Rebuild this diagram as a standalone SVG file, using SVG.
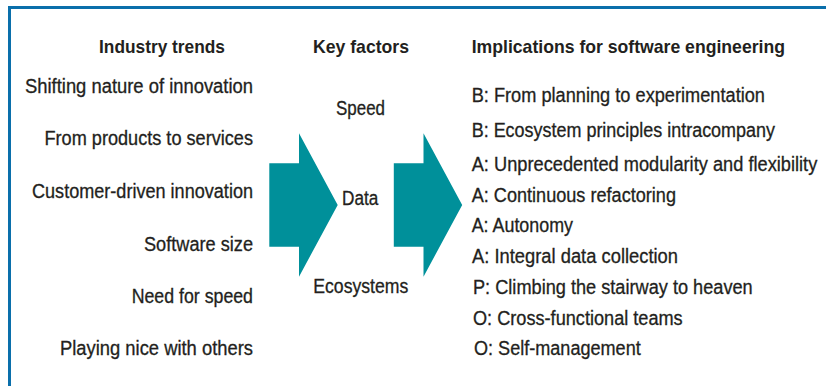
<svg xmlns="http://www.w3.org/2000/svg" width="826" height="386" viewBox="0 0 826 386">
  <style>
    text { font-family: "Liberation Sans", Arial, sans-serif; font-size: 19.5px; fill: #231f20; stroke: #231f20; stroke-width: 0.3; }
    .h { font-weight: bold; font-size: 19px; stroke-width: 0; }
    .frame { fill: none; stroke: #0a6fab; stroke-width: 3; }
    .arrow { fill: #00909a; }
  </style>
  <rect x="0" y="0" width="826" height="386" fill="#ffffff"/>
  <polyline class="frame" points="9.5,386 9.5,7.5 826,7.5"/>

  <g id="connectors">
    <polygon class="arrow" points="269.3,163.3 299,163.3 299,133.3 337.7,205 299,276.7 299,246.7 269.3,246.7"/>
    <polygon class="arrow" points="393.8,163.3 423.5,163.3 423.5,133.3 462.2,205 423.5,276.7 423.5,246.7 393.8,246.7"/>
  </g>

  <g id="industry-trends">
    <text class="h" x="99" y="53" textLength="126" lengthAdjust="spacingAndGlyphs">Industry trends</text>
    <text x="25" y="93" textLength="228" lengthAdjust="spacingAndGlyphs">Shifting nature of innovation</text>
    <text x="44.5" y="145" textLength="208.5" lengthAdjust="spacingAndGlyphs">From products to services</text>
    <text x="32" y="197.5" textLength="221" lengthAdjust="spacingAndGlyphs">Customer-driven innovation</text>
    <text x="144" y="250.5" textLength="109" lengthAdjust="spacingAndGlyphs">Software size</text>
    <text x="131.7" y="302.5" textLength="121.3" lengthAdjust="spacingAndGlyphs">Need for speed</text>
    <text x="60" y="355" textLength="193" lengthAdjust="spacingAndGlyphs">Playing nice with others</text>
  </g>

  <g id="key-factors">
    <text class="h" x="313" y="53" textLength="96" lengthAdjust="spacingAndGlyphs">Key factors</text>
    <text x="336" y="115" textLength="49" lengthAdjust="spacingAndGlyphs">Speed</text>
    <text x="342" y="205" textLength="36.3" lengthAdjust="spacingAndGlyphs">Data</text>
    <text x="313.3" y="292.5" textLength="95" lengthAdjust="spacingAndGlyphs">Ecosystems</text>
  </g>

  <g id="implications">
    <text class="h" x="471.7" y="53" textLength="313.3" lengthAdjust="spacingAndGlyphs">Implications for software engineering</text>
    <text x="471.7" y="102" textLength="293.3" lengthAdjust="spacingAndGlyphs">B: From planning to experimentation</text>
    <text x="471.7" y="137" textLength="303.3" lengthAdjust="spacingAndGlyphs">B: Ecosystem principles intracompany</text>
    <text x="471.7" y="170.5" textLength="345.6" lengthAdjust="spacingAndGlyphs">A: Unprecedented modularity and flexibility</text>
    <text x="471.7" y="202" textLength="204.3" lengthAdjust="spacingAndGlyphs">A: Continuous refactoring</text>
    <text x="471.7" y="232" textLength="101.3" lengthAdjust="spacingAndGlyphs">A: Autonomy</text>
    <text x="472" y="263" textLength="206" lengthAdjust="spacingAndGlyphs">A: Integral data collection</text>
    <text x="473" y="293.5" textLength="279.7" lengthAdjust="spacingAndGlyphs">P: Climbing the stairway to heaven</text>
    <text x="473" y="324.5" textLength="209.7" lengthAdjust="spacingAndGlyphs">O: Cross-functional teams</text>
    <text x="474" y="354.5" textLength="166.7" lengthAdjust="spacingAndGlyphs">O: Self-management</text>
  </g>
</svg>
